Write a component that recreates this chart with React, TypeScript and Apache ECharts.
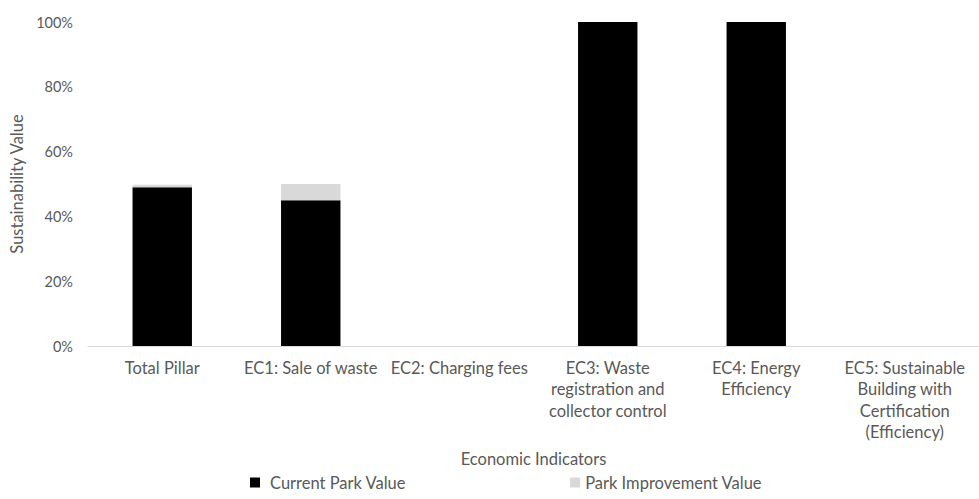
import React, { useEffect, useRef } from "react";
import * as echarts from "echarts";

const categories = [
  "Total Pillar",
  "EC1: Sale of waste",
  "EC2: Charging fees",
  "EC3: Waste\nregistration and\ncollector control",
  "EC4: Energy\nEfficiency",
  "EC5: Sustainable\nBuilding with\nCertification\n(Efficiency)",
];
const currentValues = [49, 45, 0, 100, 100, 0];
const improvementValues = [0.8, 5, 0, 0, 0, 0];
const seriesNames = ["Current Park Value", "Park Improvement Value"];

const FONT = "Lato";
const TXT = "#595959";
const FS = 16.5;

export default function App() {
  const ref = useRef<HTMLDivElement>(null);
  useEffect(() => {
    document.body.style.margin = "0";
    const chart = echarts.init(ref.current!, null, { renderer: "svg" });
    chart.setOption({
      animation: false,
      textStyle: { fontFamily: FONT },
      grid: { left: 85.5, right: -12.5, top: 22, bottom: 153, containLabel: false },
      legend: {
        left: 245,
        top: 469,
        itemWidth: 10,
        itemHeight: 10,
        itemGap: 164,
        icon: "rect",
        textStyle: { fontFamily: FONT, fontSize: FS, color: TXT },
        data: [
          { name: seriesNames[0], textStyle: { padding: [0, 0, 0, 5] } },
          { name: seriesNames[1], textStyle: { padding: [0, 0, 0, 0] } },
        ],
      },
      xAxis: {
        type: "category",
        data: categories,
        name: "Economic Indicators",
        nameLocation: "middle",
        nameGap: 104,
        nameTextStyle: { fontFamily: FONT, fontSize: FS, color: TXT },
        axisLine: { lineStyle: { color: "#d9d9d9", width: 1 } },
        axisTick: { show: false },
        axisLabel: {
          interval: 0,
          fontFamily: FONT,
          fontSize: FS,
          color: TXT,
          lineHeight: 21.5,
          margin: 11,
        },
      },
      yAxis: {
        type: "value",
        min: 0,
        max: 100,
        interval: 20,
        name: "Sustainability Value",
        nameLocation: "middle",
        nameGap: 63,
        nameTextStyle: { fontFamily: FONT, fontSize: FS, color: TXT },
        splitLine: { show: false },
        axisLine: { show: false },
        axisTick: { show: false },
        axisLabel: {
          formatter: (v: number) => v + "%",
          fontFamily: FONT,
          fontSize: 14.5,
          color: TXT,
          margin: 15,
        },
      },
      series: [
        {
          name: seriesNames[0],
          type: "bar",
          stack: "total",
          barWidth: "40%",
          data: currentValues,
          itemStyle: { color: "#000000" },
        },
        {
          name: seriesNames[1],
          type: "bar",
          stack: "total",
          barWidth: "40%",
          data: improvementValues,
          itemStyle: { color: "#d9d9d9" },
        },
      ],
    });
    return () => chart.dispose();
  }, []);
  return <div ref={ref} style={{ width: 979, height: 499 }} />;
}
